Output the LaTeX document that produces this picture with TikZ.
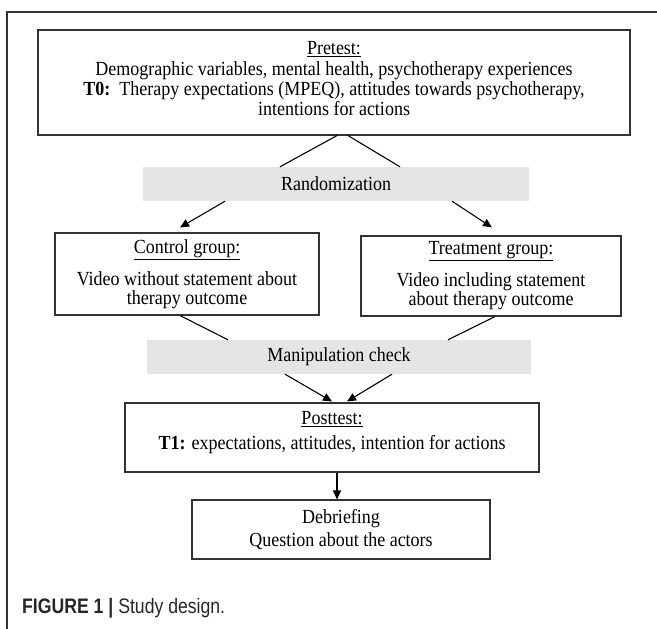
\documentclass[tikz,border=0pt]{standalone}
\usepackage{fontspec}
\setmainfont{Liberation Serif}[FakeStretch=0.9]
\newfontfamily\capfont{Liberation Sans}
\usetikzlibrary{arrows.meta}
\definecolor{bargray}{RGB}{229,229,229}
\begin{document}
\begin{tikzpicture}[x=1pt,y=-1pt,
    font=\fontsize{20}{20}\selectfont,
    every node/.style={inner sep=0pt,align=center},
    box/.style={draw=black!80,line width=1.1pt},
    bar/.style={fill=bargray},
    link/.style={line width=1.1pt},
    arr/.style={link,-{Triangle[length=9pt,width=8pt]}}]
  \useasboundingbox (0,0) rectangle (657,629);
  \draw[line width=1.2pt,black!80] (657,12) -- (7,12) -- (7,629);
  % boxes
  \node[box,minimum width=592pt,minimum height=105pt] (pre) at (334,82.5)
    {\underline{Pretest:}\\[1pt]
     Demographic variables, mental health, psychotherapy experiences\\
     \textbf{T0:}\ \ Therapy expectations (MPEQ), attitudes towards psychotherapy,\\
     intentions for actions\\[-12pt]\mbox{}};
  \node[bar,minimum width=386pt,minimum height=34pt] (rand) at (336,184) {Randomization};
  \node[box,minimum width=264pt,minimum height=82pt,font=\fontsize{20}{19}\selectfont]
    (ctrl) at (187,274)
    {\underline{Control group:}\\[11pt] Video without statement about\\ therapy outcome};
  \node[box,minimum width=260pt,minimum height=80pt,font=\fontsize{20}{19}\selectfont]
    (treat) at (491,276)
    {\underline{Treatment group:}\\[11pt] Video including statement\\ about therapy outcome};
  \node[bar,minimum width=384pt,minimum height=34pt] (manip) at (339,357) {Manipulation check};
  \node[box,minimum width=414pt,minimum height=69pt] (post) at (332,437.5)
    {\underline{Posttest:}\\[5pt]
     \textbf{T1:} expectations, attitudes, intention for actions\\[-6pt]\mbox{}};
  \node[box,minimum width=298pt,minimum height=59pt,font=\fontsize{20}{23}\selectfont]
    (debr) at (341,529.5) {Debriefing\\ Question about the actors};
  % connectors
  \draw[link] ([xshift=3pt]pre.south) -- ([xshift=-56pt]rand.north);
  \draw[link] ([xshift=14pt]pre.south) -- ([xshift=64pt]rand.north);
  \draw[arr] ([xshift=-111pt]rand.south) -- ([shift={(-7pt,5pt)}]ctrl.north);
  \draw[arr] ([xshift=116pt]rand.south) -- ([shift={(1pt,8pt)}]treat.north);
  \draw[link] ([xshift=-7pt]ctrl.south) -- ([xshift=-111pt]manip.north);
  \draw[link] ([xshift=4pt]treat.south) -- ([xshift=109pt]manip.north);
  \draw[arr] ([xshift=-54pt]manip.south) -- ([yshift=1pt]post.north);
  \draw[arr] ([xshift=53pt]manip.south) -- ([shift={(15pt,1pt)}]post.north);
  \draw[arr] ([xshift=5pt]post.south) -- ([xshift=-4pt]debr.north);
  % caption
  \node[anchor=west,text=black!85] (cap) at (22,608)
    {\scalebox{0.84}[1]{\capfont\fontsize{21}{22}\selectfont\textbf{FIGURE 1 |} Study design.}};
\end{tikzpicture}
\end{document}
